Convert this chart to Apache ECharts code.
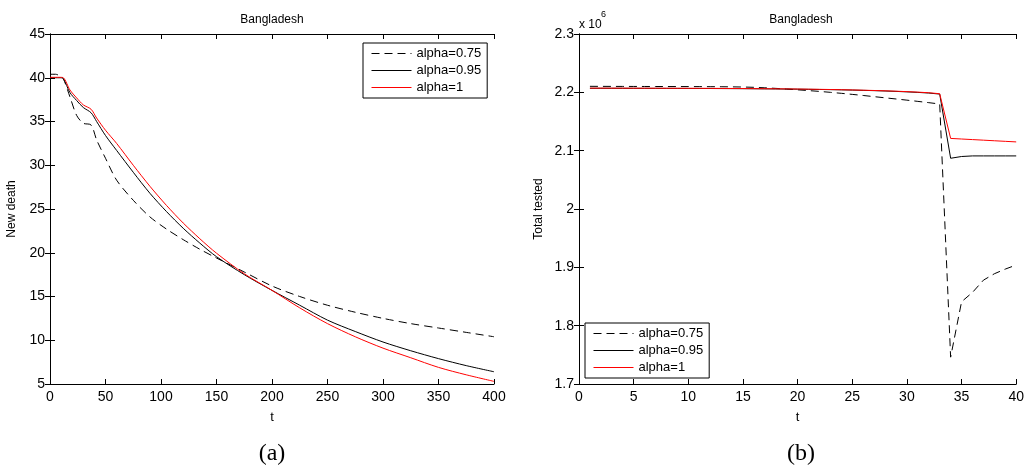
<!DOCTYPE html>
<html>
<head>
<meta charset="utf-8">
<script src="https://cdn.jsdelivr.net/npm/echarts@6/dist/echarts.min.js"></script>
<style>
html,body{margin:0;padding:0;background:#fff;}
#chart{width:1027px;height:472px;}
</style>
</head>
<body>
<div id="chart"></div>
<script>
// ---- Data (a): New death vs t ----
const tA = [0, 5, 9, 12, 18, 24, 30, 37, 42, 50, 60, 75, 90, 105, 120, 135, 150, 175, 200, 225, 250, 275, 300, 325, 350, 375, 400];
const deathA075 = [40.4, 40.4, 40.2, 39.9, 37.8, 35.7, 34.8, 34.6, 32.9, 30.8, 28.3, 26.0, 24.1, 22.7, 21.5, 20.4, 19.4, 17.8, 16.2, 15.0, 14.0, 13.2, 12.5, 11.9, 11.4, 10.9, 10.4];
const deathA095 = [40.0, 40.0, 40.0, 39.9, 38.3, 37.4, 36.6, 36.0, 35.0, 33.4, 31.7, 29.2, 26.8, 24.7, 22.8, 21.1, 19.55, 17.5, 15.7, 14.0, 12.3, 11.0, 9.8, 8.8, 7.9, 7.1, 6.4];
const deathA1   = [40.05, 40.05, 40.05, 40.0, 38.6, 37.7, 36.9, 36.4, 35.4, 34.0, 32.5, 30.0, 27.6, 25.4, 23.4, 21.6, 19.95, 17.6, 15.7, 13.7, 11.9, 10.4, 9.1, 8.0, 6.9, 6.05, 5.3];

// ---- Data (b): Total tested vs t ----
const tB = [1,2,3,4,5,6,7,8,9,10,11,12,13,14,15,16,17,18,19,20,21,22,23,24,25,26,27,28,29,30,31,32,33,34,35,36,37,38,39,40];
const testedA075 = [2210300,2210250,2210200,2210150,2210100,2210050,2210000,2209950,2209900,2209850,2209800,2209700,2209600,2209400,2209100,2208600,2207800,2206800,2205600,2204300,2203000,2201600,2200000,2198300,2196500,2194600,2192600,2190600,2188600,2186600,2184500,2182300,2180000,1746000,1841000,1857000,1878000,1889000,1897000,1904000];
const testedA095 = [2206900,2206900,2206900,2206850,2206850,2206800,2206800,2206750,2206700,2206650,2206600,2206550,2206450,2206350,2206250,2206100,2205950,2205800,2205600,2205400,2205150,2204900,2204600,2204250,2203850,2203400,2202900,2202300,2201600,2200800,2199900,2198800,2197000,2087000,2090000,2091000,2091000,2091000,2091000,2091000];
const testedA1   = [2207200,2207200,2207150,2207150,2207100,2207100,2207050,2207000,2206950,2206900,2206850,2206800,2206700,2206600,2206500,2206350,2206200,2206050,2205850,2205650,2205400,2205150,2204850,2204500,2204100,2203650,2203150,2202600,2201950,2201200,2200350,2199300,2197600,2121000,2120000,2119000,2118000,2117000,2116000,2115000];

const legendNames = ['alpha=0.75', 'alpha=0.95', 'alpha=1'];
const xTicksA = {min: 0, max: 400, interval: 50};
const yTicksA = {min: 5, max: 45, interval: 5};
const xTicksB = {min: 0, max: 40, interval: 5};
const yTicksB = {min: 1700000, max: 2300000, interval: 100000};

const FONT = "'Liberation Sans', Arial, Helvetica, sans-serif";
const pair = (xs, ys) => xs.map((x, i) => [x, ys[i]]);

function boxAxes(gridIndex, xt, yt, xName, yName, yNameGap, yFmt) {
  const common = {
    gridIndex: gridIndex,
    axisLine: {show: true, lineStyle: {color: '#000', width: 1}},
    axisTick: {show: true, inside: true, length: 5, lineStyle: {color: '#000', width: 1}},
    splitLine: {show: false}
  };
  const xs = [
    Object.assign({}, common, {type: 'value', position: 'bottom', min: xt.min, max: xt.max, interval: xt.interval,
      name: xName, nameLocation: 'middle', nameGap: 27,
      nameTextStyle: {fontFamily: FONT, fontSize: 13, color: '#000'},
      axisLabel: {fontFamily: FONT, fontSize: 14, color: '#000', margin: 6}}),
    Object.assign({}, common, {type: 'value', position: 'top', min: xt.min, max: xt.max, interval: xt.interval,
      axisLabel: {show: false}})
  ];
  const ys = [
    Object.assign({}, common, {type: 'value', position: 'left', min: yt.min, max: yt.max, interval: yt.interval,
      name: yName, nameLocation: 'middle', nameGap: yNameGap,
      nameTextStyle: {fontFamily: FONT, fontSize: 12, color: '#000'},
      axisLabel: {fontFamily: FONT, fontSize: 14, color: '#000', margin: 5, formatter: yFmt}}),
    Object.assign({}, common, {type: 'value', position: 'right', min: yt.min, max: yt.max, interval: yt.interval,
      axisLabel: {show: false}})
  ];
  return {xs, ys};
}

const A = boxAxes(0, xTicksA, yTicksA, 't', 'New death', 32, v => String(v));
const B = boxAxes(1, xTicksB, yTicksB, 't', 'Total tested', 34, v => String(Math.round(v / 1000) / 1000));

const styles = [
  {color: '#000', type: [8, 5]},
  {color: '#000', type: 'solid'},
  {color: '#ff0000', type: 'solid'}
];

function mkSeries(name, xIdx, yIdx, data, st, smooth) {
  return {
    name: name, type: 'line', xAxisIndex: xIdx, yAxisIndex: yIdx,
    data: data, symbol: 'none', smooth: smooth, animation: false,
    lineStyle: {color: st.color, width: 1, type: st.type},
    itemStyle: {color: st.color},
    emphasis: {disabled: true}
  };
}

const legendCommon = {
  orient: 'vertical', itemWidth: 40, itemHeight: 12, itemGap: 4,
  borderColor: '#000', borderWidth: 1, backgroundColor: '#fff',
  textStyle: {fontFamily: FONT, fontSize: 13, color: '#000'},
  itemStyle: {opacity: 0, borderWidth: 0},
  lineStyle: {width: 1},
  selectedMode: false
};

const option = {
  animation: false,
  grid: [
    {left: 50, top: 34, width: 444, height: 350},
    {left: 579, top: 34, width: 444, height: 350}
  ],
  xAxis: [A.xs[0], A.xs[1], Object.assign(B.xs[0], {gridIndex: 1}), Object.assign(B.xs[1], {gridIndex: 1})],
  yAxis: [A.ys[0], A.ys[1], Object.assign(B.ys[0], {gridIndex: 1}), Object.assign(B.ys[1], {gridIndex: 1})],
  legend: [
    Object.assign({}, legendCommon, {left: 363, top: 43, padding: [4, 6, 4, 8],
      data: legendNames.slice()})
  ],
  series: [
    mkSeries(legendNames[0], 0, 0, pair(tA, deathA075), styles[0], 0.3),
    mkSeries(legendNames[1], 0, 0, pair(tA, deathA095), styles[1], 0.3),
    mkSeries(legendNames[2], 0, 0, pair(tA, deathA1), styles[2], 0.3),
    mkSeries(legendNames[0] + ' ', 2, 2, pair(tB, testedA075), styles[0], false),
    mkSeries(legendNames[1] + ' ', 2, 2, pair(tB, testedA095), styles[1], false),
    mkSeries(legendNames[2] + ' ', 2, 2, pair(tB, testedA1), styles[2], false)
  ],
  graphic: [
    {type: 'text', x: 272, y: 20, style: {text: 'Bangladesh', font: '12px ' + FONT, fill: '#000', align: 'center', verticalAlign: 'middle'}},
    {type: 'text', x: 801, y: 20, style: {text: 'Bangladesh', font: '12px ' + FONT, fill: '#000', align: 'center', verticalAlign: 'middle'}},
    {type: 'text', x: 579, y: 25, style: {text: 'x 10', font: '12px ' + FONT, fill: '#000', align: 'left', verticalAlign: 'middle'}},
    {type: 'text', x: 601, y: 15, style: {text: '6', font: '9px ' + FONT, fill: '#000', align: 'left', verticalAlign: 'middle'}},
    {type: 'text', x: 272, y: 454, style: {text: '(a)', font: '24px "Liberation Serif", "Times New Roman", serif', fill: '#000', align: 'center', verticalAlign: 'middle'}},
    {type: 'text', x: 801, y: 454, style: {text: '(b)', font: '24px "Liberation Serif", "Times New Roman", serif', fill: '#000', align: 'center', verticalAlign: 'middle'}}
  ]
};
option.legend.push(Object.assign({}, legendCommon, {left: 585, top: 323, padding: [4, 6, 4, 8],
  data: legendNames.map(n => n + ' '),
  formatter: n => n.trim()}));

const chart = echarts.init(document.getElementById('chart'), null, {renderer: 'canvas'});
chart.setOption(option);
</script>
</body>
</html>
